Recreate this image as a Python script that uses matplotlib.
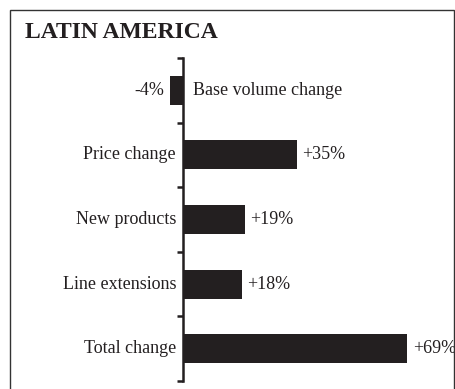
import matplotlib.pyplot as plt
from matplotlib.patches import Rectangle

# Sales growth drivers, percent change
categories = ["Base volume change", "Price change", "New products",
              "Line extensions", "Total change"]
values = [-4, 35, 19, 18, 69]
value_labels = ["-4%", "+35%", "+19%", "+18%", "+69%"]

plt.rcParams['font.family'] = ['Liberation Serif', 'DejaVu Serif']
ink = '#231f20'

W, H = 456, 389
fig = plt.figure(figsize=(W / 100, H / 100), dpi=100)

# outer frame (open at the bottom edge of the image)
fig.patches.append(Rectangle((10 / W, -0.05), 444 / W, 1 - 10 / H + 0.05,
                             transform=fig.transFigure, fill=False,
                             edgecolor='#333333', linewidth=1.0))

fig.text(25 / W, 1 - 33 / H, "LATIN AMERICA", fontsize=17, fontweight='bold',
         color=ink, va='center', ha='left')

# plot area: x=0 sits at 183 px, 3.25 px per percent
x0_px, scale = 183, 3.25
left_px, right_px = 20, 450
top_px, bot_px = 58, 381
ax = fig.add_axes([left_px / W, (H - bot_px) / H,
                   (right_px - left_px) / W, (bot_px - top_px) / H])
ax.set_xlim((left_px - x0_px) / scale, (right_px - x0_px) / scale)
ax.set_ylim(len(categories) - 0.5, -0.5)

ypos = list(range(len(categories)))
ax.barh(ypos, values, height=0.45, color=ink, zorder=2)

for spine in ['top', 'right', 'bottom']:
    ax.spines[spine].set_visible(False)
ax.spines['left'].set_position(('data', 0))
ax.spines['left'].set_linewidth(1.8)
ax.spines['left'].set_color(ink)
ax.spines['left'].set_zorder(3)
ax.set_xticks([])
ax.set_yticks([i - 0.5 for i in range(len(categories) + 1)])
ax.set_yticklabels([])
ax.tick_params(axis='y', direction='out', length=4, width=1.8, color=ink)
ax.patch.set_visible(False)

fs = 13
for y, v, cat, lab in zip(ypos, values, categories, value_labels):
    if v < 0:
        ax.annotate(lab, (v, y), xytext=(-4, 0), textcoords='offset points',
                    ha='right', va='center', fontsize=fs, color=ink)
        ax.annotate(cat, (0, y), xytext=(7, 0), textcoords='offset points',
                    ha='left', va='center', fontsize=fs, color=ink)
    else:
        ax.annotate(cat, (0, y), xytext=(-5, 0), textcoords='offset points',
                    ha='right', va='center', fontsize=fs, color=ink)
        ax.annotate(lab, (v, y), xytext=(4, 0), textcoords='offset points',
                    ha='left', va='center', fontsize=fs, color=ink)

fig.savefig('out.png', dpi=100)
